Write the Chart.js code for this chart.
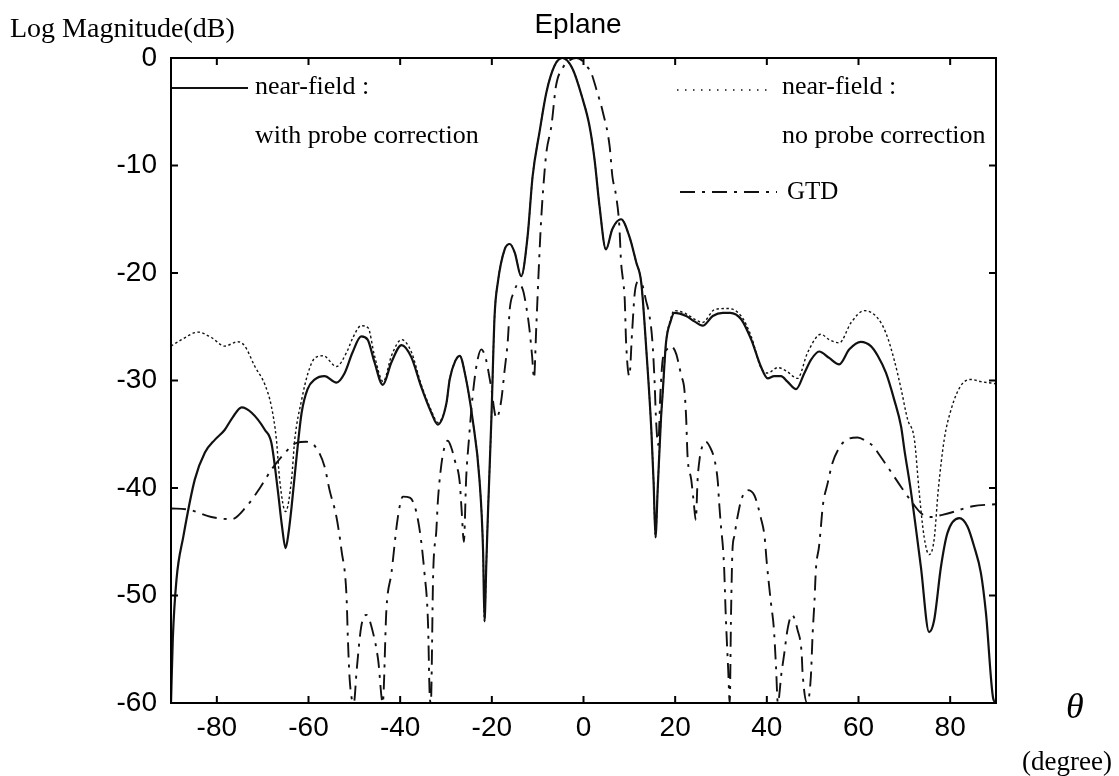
<!DOCTYPE html>
<html>
<head>
<meta charset="utf-8">
<title>Eplane</title>
<script src="https://cdn.jsdelivr.net/npm/chart.js@4.4.1/dist/chart.umd.min.js"></script>
<style>
  html, body { margin: 0; padding: 0; background: #fff; }
  #wrap { width: 1119px; height: 776px; }
</style>
</head>
<body>
<div id="wrap"><canvas id="eplane" width="1119" height="776"></canvas></div>
<script>
// E-plane pattern: near-field with / without probe correction and GTD
var xTickValues = [-80, -60, -40, -20, 0, 20, 40, 60, 80];
var yTickValues = [0, -10, -20, -30, -40, -50, -60];

// near-field : with probe correction
var solidTheta = [-90, -89.6, -88.8, -87.3, -84.8, -82.6, -80.4, -78.3, -76.5, -74.6, -72.4, -69.5, -68.1, -66.7, -65.8, -65.0, -64.3, -63.7, -62.6, -61.5, -60.2, -58.6, -56.5, -53.9, -52.1, -50.4, -48.5, -47.1, -45.6, -43.8, -41.9, -39.7, -37.6, -35.4, -33.2, -31.8, -29.9, -29.2, -28.0, -27.0, -25.8, -24.2, -22.7, -21.9, -21.6, -21.2, -20.9, -20.1, -19.4, -18.7, -17.2, -16.1, -15.0, -13.6, -12.2, -11.1, -9.6, -8.1, -6.3, -4.6, -2.4, -0.2, 1.3, 2.4, 3.5, 4.9, 6.3, 8.2, 10.0, 11.5, 12.6, 13.7, 14.8, 15.3, 15.7, 16.2, 16.9, 17.3, 18.0, 19.0, 19.8, 22.4, 24.2, 26.0, 28.2, 30.4, 32.0, 34.4, 36.6, 38.7, 40.2, 41.6, 43.1, 44.5, 46.4, 48.2, 49.6, 51.4, 53.6, 55.8, 58.0, 60.5, 62.7, 64.2, 66.0, 67.8, 69.3, 70.0, 71.4, 73.6, 75.4, 76.5, 78.0, 79.4, 82.0, 83.8, 85.2, 86.7, 87.8, 89.4, 90];
var solidDb = [-60, -54, -48.5, -44.5, -39.2, -36.7, -35.5, -34.6, -33.4, -32.5, -33.0, -34.6, -35.8, -40.2, -43.5, -45.6, -44.0, -41.8, -37.1, -33.0, -30.8, -29.9, -29.6, -30.2, -29.3, -27.4, -25.9, -26.2, -28.3, -30.4, -28.3, -26.7, -27.8, -30.6, -33.0, -34.1, -32.1, -29.9, -28.2, -27.7, -29.5, -33.6, -39.2, -46.0, -52.4, -47.0, -43.0, -33.6, -24.0, -20.9, -17.8, -17.3, -18.1, -20.3, -16.6, -11.0, -6.9, -3.2, -0.7, 0, -1.0, -3.8, -6.3, -9.4, -13.8, -17.8, -15.9, -15.0, -16.6, -19.0, -20.9, -27.1, -34.6, -39.5, -44.6, -40.0, -33.6, -31.0, -26.5, -24.5, -23.7, -24.0, -24.5, -24.9, -24.0, -23.7, -23.7, -24.3, -26.2, -28.7, -29.8, -29.6, -29.6, -30.1, -30.8, -29.3, -28.1, -27.3, -27.9, -28.5, -27.1, -26.4, -26.8, -27.7, -29.3, -31.8, -34.3, -36.4, -40.2, -47.3, -53.4, -52.3, -47.3, -44.2, -42.8, -43.6, -45.4, -47.9, -51.6, -59.6, -60];

// near-field : no probe correction
var dottedTheta = [-90, -87.7, -84.1, -81.2, -78.3, -75.4, -73.9, -71.7, -69.5, -68.1, -67.0, -66.3, -65.0, -63.7, -63.0, -61.5, -60.1, -58.6, -56.8, -53.9, -51.7, -50.3, -48.5, -47.0, -45.6, -43.7, -41.9, -39.7, -37.6, -35.4, -33.2, -31.8, -29.9, -29.2, -28.0, -27.0, -25.8, -24.2, -22.7, -21.9, -21.6, -21.2, -20.9, -20.1, -19.4, -18.7, -17.2, -16.1, -15.0, -13.6, -12.2, -11.1, -9.6, -8.1, -6.3, -4.6, -2.4, -0.2, 1.3, 2.4, 3.5, 4.9, 6.3, 8.2, 10.0, 11.5, 12.6, 13.7, 14.8, 15.3, 15.7, 16.2, 16.9, 17.3, 18.0, 19.0, 19.8, 22.4, 24.2, 26.0, 28.6, 31.5, 34.4, 36.6, 38.7, 40.2, 42.4, 44.2, 46.7, 48.9, 51.8, 53.6, 55.8, 58.4, 61.3, 64.2, 66.0, 67.8, 69.3, 70.7, 72.2, 73.2, 74.3, 75.4, 76.5, 77.4, 78.7, 80.2, 82.3, 84.5, 86.7, 90];
var dottedDb = [-26.8, -26.2, -25.5, -26.0, -26.8, -26.4, -26.8, -28.7, -30.4, -32.4, -35.5, -39.2, -42.2, -39.2, -35.5, -31.8, -29.3, -27.9, -27.7, -28.7, -27.4, -26.0, -24.9, -25.1, -27.7, -30.1, -27.7, -26.2, -27.3, -30.4, -32.8, -33.9, -32.1, -29.9, -28.2, -27.7, -29.5, -33.6, -39.2, -46.0, -52.4, -47.0, -43.0, -33.6, -24.0, -20.9, -17.8, -17.3, -18.1, -20.3, -16.6, -11.0, -6.9, -3.2, -0.7, 0, -1.0, -3.8, -6.3, -9.4, -13.8, -17.8, -15.9, -15.0, -16.6, -19.0, -20.9, -27.1, -34.6, -39.5, -44.6, -40.0, -33.6, -31.0, -26.5, -24.3, -23.5, -23.8, -24.3, -24.6, -23.4, -23.3, -24.0, -25.9, -28.8, -29.3, -28.8, -29.1, -29.8, -27.4, -25.7, -26.2, -26.5, -24.6, -23.5, -24.2, -25.6, -28.1, -30.8, -33.6, -35.5, -40.2, -44.5, -46.2, -44.8, -40.2, -35.5, -32.7, -30.5, -29.9, -30.1, -30.3];

// GTD
var gtdTheta = [-90, -86.3, -81.2, -76.8, -73.5, -70.6, -68.1, -65.5, -62.6, -60.5, -58.6, -56.5, -55.4, -53.9, -52.8, -51.7, -51.4, -51.0, -50.1, -49.5, -48.5, -47.4, -45.9, -44.8, -43.8, -43.0, -41.9, -40.5, -39.4, -37.9, -36.1, -34.7, -33.9, -33.6, -33.3, -32.8, -32.1, -31.8, -31.2, -30.6, -29.6, -28.8, -28.1, -27.0, -26.6, -26.1, -25.6, -25.0, -24.2, -23.3, -22.3, -21.3, -20.2, -19.0, -18.0, -17.2, -16.5, -16.1, -15.2, -14.2, -13.2, -12.5, -11.8, -11.2, -10.8, -10.3, -9.8, -9.3, -8.8, -8.1, -7.0, -6.0, -4.5, -3.0, -1.6, -0.4, 0.8, 1.7, 2.8, 4.2, 5.7, 6.3, 7.1, 7.8, 8.2, 8.6, 9.0, 9.3, 10.0, 10.6, 11.2, 12.0, 12.9, 13.6, 14.4, 15.0, 15.5, 15.8, 16.3, 16.8, 17.3, 18.2, 19.1, 20.2, 20.9, 21.3, 22.0, 22.4, 22.7, 23.5, 24.0, 24.5, 24.9, 25.3, 26.0, 26.7, 27.6, 28.6, 29.3, 29.6, 30.0, 30.4, 30.7, 31.0, 31.2, 31.6, 31.9, 32.2, 32.5, 32.9, 33.6, 34.5, 35.8, 37.3, 38.7, 39.5, 40.0, 40.9, 41.5, 42.0, 42.4, 43.2, 43.8, 44.5, 45.5, 46.7, 47.6, 47.8, 48.8, 49.6, 50.0, 50.4, 50.7, 51.4, 51.8, 52.2, 53.3, 54.3, 56.2, 58.0, 59.8, 61.5, 63.4, 64.2, 66.3, 69.3, 71.8, 73.8, 75.8, 78.3, 80.9, 83.0, 84.9, 90];
var gtdDb = [-41.9, -42.0, -42.7, -42.9, -41.7, -40.0, -38.3, -36.9, -35.8, -35.7, -36.1, -38.0, -40.2, -42.7, -45.8, -50.1, -54.1, -57.9, -60, -57.0, -52.9, -51.8, -53.5, -56.0, -60, -51.3, -47.9, -42.7, -40.8, -40.9, -43.0, -47.9, -52.9, -58.8, -60, -48.0, -43.9, -41.4, -38.5, -36.7, -35.6, -36.3, -37.4, -39.5, -42.0, -45.0, -39.1, -35.5, -31.5, -28.5, -27.1, -28.0, -30.5, -33.5, -32.0, -29.0, -26.2, -23.4, -21.8, -21.0, -21.6, -23.1, -25.2, -27.8, -29.8, -25.0, -20.0, -15.5, -12.2, -8.8, -6.3, -2.6, -0.9, -0.2, 0, -0.2, -0.8, -1.4, -2.9, -5.0, -8.2, -11.0, -12.8, -15.5, -19.0, -20.6, -22.5, -26.5, -29.6, -25.5, -21.8, -20.8, -21.2, -22.5, -24.0, -26.2, -30.0, -33.4, -36.0, -31.0, -28.0, -27.1, -26.8, -27.5, -28.7, -29.5, -30.8, -33.5, -37.0, -39.2, -41.1, -43.0, -39.2, -37.4, -36.0, -35.7, -36.2, -37.4, -39.4, -41.4, -43.6, -45.4, -47.6, -51.4, -53.5, -57.2, -60, -51.5, -45.8, -44.5, -42.7, -41.0, -40.2, -40.7, -42.8, -44.5, -47.0, -50.7, -52.9, -56.6, -60, -57.2, -55.4, -53.2, -51.8, -53.2, -55.4, -57.2, -60, -57.6, -53.5, -50.5, -47.6, -45.4, -43.6, -41.7, -39.5, -37.7, -36.0, -35.4, -35.3, -35.6, -36.2, -36.7, -38.0, -39.9, -41.4, -42.4, -42.7, -42.5, -42.2, -41.9, -41.7, -41.5];

function toPoints(xs, ys) {
  return xs.map(function (x, i) { return { x: x, y: ys[i] }; });
}

var SOLID_DASH = [];
var DOTTED_DASH = [2.5, 2.5];
var GTD_DASH = [15, 7, 3, 7];

// frame with inward ticks on all four sides, plus the text around the plot
var framePlugin = {
  id: 'frame',
  afterDatasetsDraw: function (chart) {
    var ctx = chart.ctx;
    var a = chart.chartArea;
    var xs = chart.scales.x, ys = chart.scales.y;
    ctx.save();
    ctx.strokeStyle = '#000';
    ctx.lineWidth = 2;
    ctx.setLineDash([]);
    ctx.strokeRect(a.left, a.top, a.right - a.left, a.bottom - a.top);
    var t = 7;
    ctx.beginPath();
    xTickValues.forEach(function (v) {
      var px = xs.getPixelForValue(v);
      ctx.moveTo(px, a.bottom); ctx.lineTo(px, a.bottom - t);
      ctx.moveTo(px, a.top); ctx.lineTo(px, a.top + t);
    });
    yTickValues.forEach(function (v) {
      var py = ys.getPixelForValue(v);
      ctx.moveTo(a.left, py); ctx.lineTo(a.left + t, py);
      ctx.moveTo(a.right, py); ctx.lineTo(a.right - t, py);
    });
    ctx.stroke();
    ctx.restore();
  },
  afterDraw: function (chart) {
    var ctx = chart.ctx;
    var a = chart.chartArea;
    var ds = chart.data.datasets;
    ctx.save();
    ctx.fillStyle = '#000';
    ctx.textBaseline = 'alphabetic';

    ctx.font = '28px "Liberation Sans", Arial, sans-serif';
    ctx.textAlign = 'center';
    ctx.fillText('Eplane', 578, 33);

    ctx.textAlign = 'left';
    ctx.font = '28px "Liberation Serif", "Times New Roman", serif';
    ctx.fillText('Log Magnitude(dB)', 10, 37);

    ctx.font = 'italic 36px "Liberation Serif", "Times New Roman", serif';
    ctx.fillText('\u03b8', 1066, 718);
    ctx.font = '27px "Liberation Serif", "Times New Roman", serif';
    ctx.fillText('(degree)', 1022, 770);

    // legend
    function sample(x1, x2, y, d, dash) {
      ctx.save();
      ctx.strokeStyle = d.borderColor;
      ctx.lineWidth = d.borderWidth;
      ctx.setLineDash(dash);
      ctx.beginPath();
      ctx.moveTo(x1, y); ctx.lineTo(x2, y);
      ctx.stroke();
      ctx.restore();
    }
    sample(a.left + 1, 248, 88, ds[0], SOLID_DASH);
    sample(677, 773, 90, ds[1], [1.5, 6.5]);
    sample(680, 777, 192, ds[2], GTD_DASH);

    ctx.font = '26px "Liberation Serif", "Times New Roman", serif';
    ctx.fillText('near-field :', 255, 94);
    ctx.fillText('with probe correction', 255, 143);
    ctx.fillText('near-field :', 782, 94);
    ctx.fillText('no probe correction', 782, 143);
    ctx.font = '25px "Liberation Serif", "Times New Roman", serif';
    ctx.fillText('GTD', 787, 199);
    ctx.restore();
  }
};

new Chart(document.getElementById('eplane'), {
  type: 'line',
  data: {
    datasets: [{
      label: 'near-field : with probe correction',
      data: toPoints(solidTheta, solidDb),
      borderColor: '#111',
      borderWidth: 2.2,
      borderDash: SOLID_DASH,
      pointRadius: 0,
      fill: false,
      cubicInterpolationMode: 'monotone'
    }, {
      label: 'near-field : no probe correction',
      data: toPoints(dottedTheta, dottedDb),
      borderColor: '#111',
      borderWidth: 1.4,
      borderDash: DOTTED_DASH,
      pointRadius: 0,
      fill: false,
      cubicInterpolationMode: 'monotone'
    }, {
      label: 'GTD',
      data: toPoints(gtdTheta, gtdDb),
      borderColor: '#111',
      borderWidth: 1.9,
      borderDash: GTD_DASH,
      pointRadius: 0,
      fill: false,
      cubicInterpolationMode: 'monotone'
    }]
  },
  options: {
    responsive: false,
    animation: false,
    devicePixelRatio: 1,
    layout: { padding: { top: 58, right: 123, bottom: 0, left: 0 } },
    plugins: {
      legend: { display: false },
      title: { display: false },
      tooltip: { enabled: false }
    },
    scales: {
      x: {
        type: 'linear',
        min: -90,
        max: 90,
        grid: { display: false, drawTicks: false },
        border: { display: false },
        afterBuildTicks: function (scale) {
          scale.ticks = xTickValues.map(function (v) { return { value: v }; });
        },
        afterFit: function (scale) { scale.height = 73; },
        ticks: {
          padding: 8,
          color: '#000',
          maxRotation: 0,
          font: { family: '"Liberation Sans", Arial, sans-serif', size: 28 }
        }
      },
      y: {
        type: 'linear',
        min: -60,
        max: 0,
        grid: { display: false, drawTicks: false },
        border: { display: false },
        afterBuildTicks: function (scale) {
          scale.ticks = yTickValues.map(function (v) { return { value: v }; });
        },
        afterFit: function (scale) { scale.width = 171; },
        ticks: {
          padding: 14,
          color: '#000',
          font: { family: '"Liberation Sans", Arial, sans-serif', size: 28 }
        }
      }
    }
  },
  plugins: [framePlugin]
});
</script>
</body>
</html>
